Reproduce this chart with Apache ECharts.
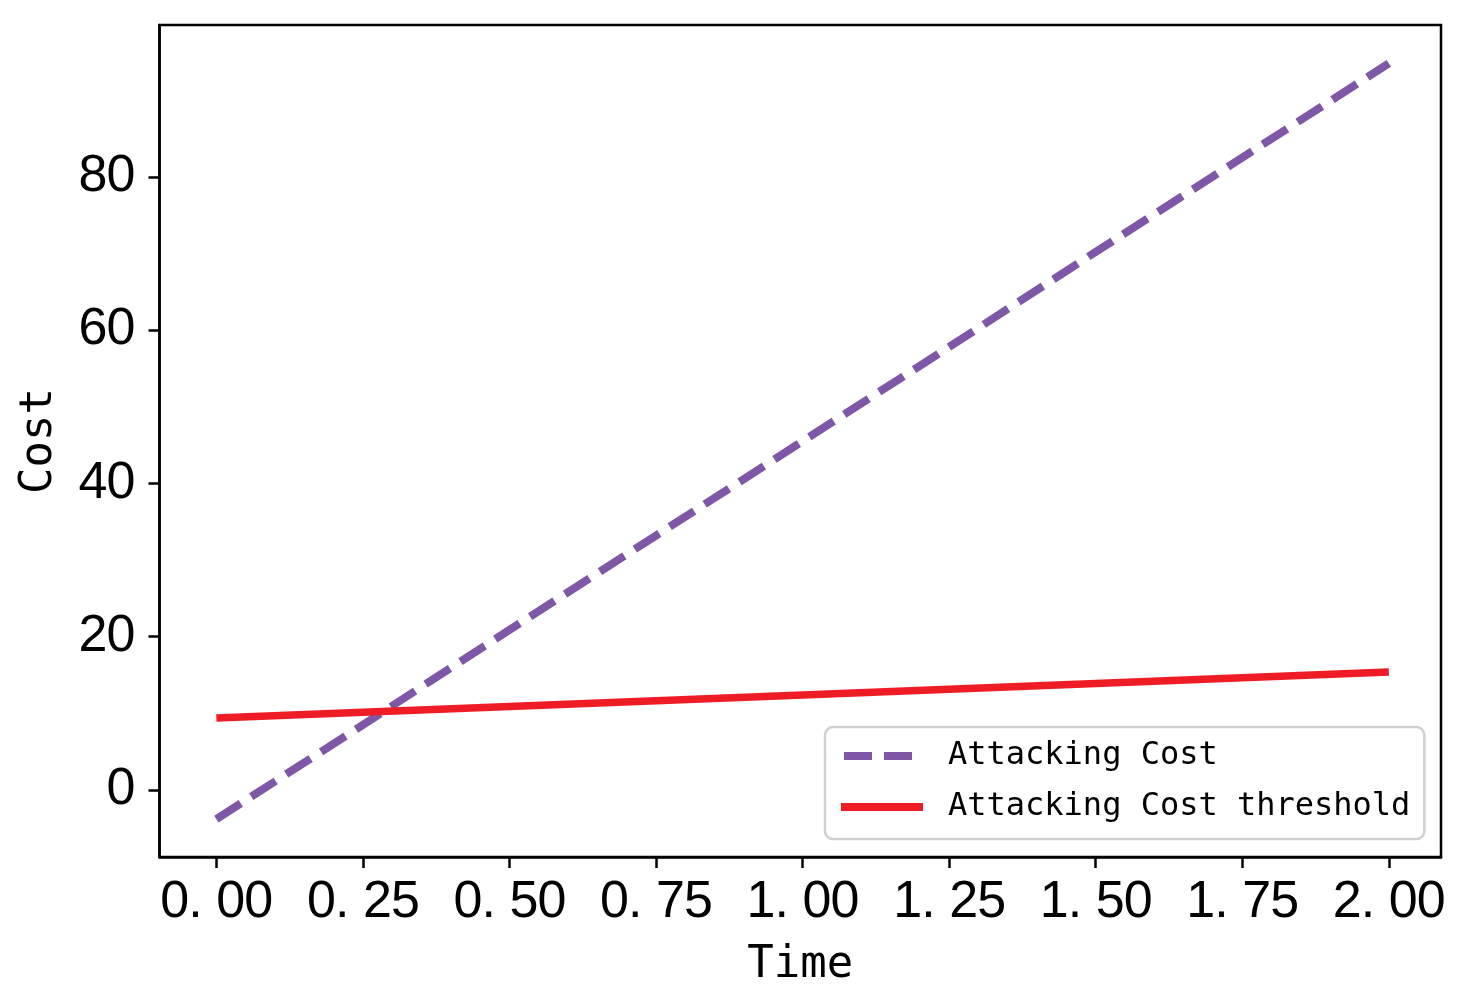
<!DOCTYPE html>
<html lang="en">
<head>
    <meta charset="UTF-8">
    <script type="text/javascript" src="https://cdn.jsdelivr.net/npm/echarts@6/dist/echarts.min.js"></script>
    <title>Attacking Cost</title>
    <style>
        html, body {margin: 0; padding: 0; background: #fff;}
        #costChart {width: 1469px; height: 1005px;}
    </style>
</head>
<body>

<div id="costChart"></div>

<script>
    // values
    var timeData = [0, 0.25, 0.5, 0.75, 1.0, 1.25, 1.5, 1.75, 2.0];
    var attackCost = [-3.8, 8.5, 20.9, 33.2, 45.5, 57.8, 70.2, 82.5, 94.8];
    var costThreshold = [9.4, 10.15, 10.9, 11.65, 12.4, 13.15, 13.9, 14.65, 15.4];
    var xTicks = [0, 0.25, 0.5, 0.75, 1.0, 1.25, 1.5, 1.75, 2.0];
    var yTicks = [0, 20, 40, 60, 80];
    var seriesNames = ['Attacking Cost', 'Attacking Cost threshold'];

    var monoFont = '"DejaVu Sans Mono", "Liberation Mono", monospace';
    var tickFont = '"Liberation Sans", Arial, sans-serif';

    function pairs(xs, ys) {
        var out = [];
        for (var i = 0; i < xs.length; i++) {
            out.push([xs[i], ys[i]]);
        }
        return out;
    }

    // every character in its own fixed-width cell, like the half-width CJK font of the original
    function cells(str) {
        return str.split('').map(function (c) {
            return '{c|' + c + '}';
        }).join('');
    }

    var tickRich = {
        c: {width: 28, align: 'left', fontFamily: tickFont, fontSize: 52, lineHeight: 52, color: '#000'}
    };

    var mCharts = echarts.init(document.getElementById('costChart'));

    var option = {
        backgroundColor: '#fff',
        animation: false,
        grid: {
            left: 159.5, right: 28, top: 25, bottom: 148,
            show: true,
            borderColor: '#000',
            borderWidth: 2.5
        },
        legend: {
            orient: 'vertical',
            left: 825,
            top: 727,
            padding: [13, 14, 16, 12],
            itemGap: 19,
            itemWidth: 82,
            itemHeight: 14,
            backgroundColor: '#fff',
            borderColor: '#d0d0d0',
            borderWidth: 2.5,
            borderRadius: 8,
            itemStyle: {opacity: 0},
            lineStyle: {width: 8},
            textStyle: {
                fontFamily: monoFont,
                fontSize: 32,
                lineHeight: 32,
                color: '#000',
                padding: [0, 0, 0, 20]
            },
            data: [
                {name: seriesNames[0], lineStyle: {type: [28, 12], dashOffset: 37}},
                {name: seriesNames[1]}
            ]
        },
        xAxis: {
            type: 'value',
            min: -0.097,
            max: 2.089,
            name: 'Time',
            nameLocation: 'middle',
            nameGap: 87,
            nameTextStyle: {fontFamily: monoFont, fontSize: 44, color: '#000'},
            splitLine: {show: false},
            axisLine: {show: true, onZero: false, lineStyle: {color: '#000', width: 2.5}},
            axisTick: {show: true, length: 11, lineStyle: {color: '#000', width: 2.5}, customValues: xTicks},
            axisLabel: {
                margin: 20,
                customValues: xTicks,
                rich: tickRich,
                formatter: function (v) { return cells(v.toFixed(2)); }
            }
        },
        yAxis: {
            type: 'value',
            min: -8.74,
            max: 99.8,
            name: 'Cost',
            nameLocation: 'middle',
            nameGap: 98,
            nameTextStyle: {fontFamily: monoFont, fontSize: 44, color: '#000'},
            splitLine: {show: false},
            axisLine: {show: true, onZero: false, lineStyle: {color: '#000', width: 2.5}},
            axisTick: {show: true, length: 11, lineStyle: {color: '#000', width: 2.5}, customValues: yTicks},
            axisLabel: {
                margin: 25,
                customValues: yTicks,
                rich: tickRich,
                formatter: function (v) { return cells(String(v)); }
            }
        },
        series: [
            {
                name: seriesNames[0],
                type: 'line',
                symbol: 'none',
                color: '#7e57a6',
                lineStyle: {width: 8, type: [29, 12.5], cap: 'butt'},
                data: pairs(timeData, attackCost)
            },
            {
                name: seriesNames[1],
                type: 'line',
                symbol: 'none',
                color: '#ee1c25',
                lineStyle: {width: 7.5, type: 'solid'},
                data: pairs(timeData, costThreshold)
            }
        ]
    };

    mCharts.setOption(option);
</script>

</body>
</html>
